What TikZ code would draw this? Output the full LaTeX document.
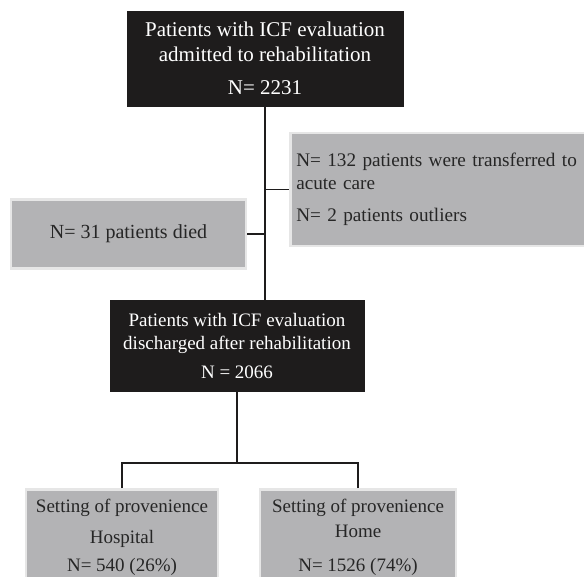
\documentclass[tikz,border=0pt]{standalone}
\usepackage{fontspec}
\setmainfont{Liberation Serif}
\definecolor{boxgrey}{HTML}{B3B3B5}
\definecolor{boxedge}{HTML}{E6E6E6}
\definecolor{inkgrey}{HTML}{262626}
\definecolor{inkblack}{HTML}{1E1C1C}
\tikzset{
  darkbox/.style={draw=inkblack, fill=inkblack, text=white, align=center, inner sep=0pt},
  greybox/.style={draw=boxedge, line width=2.5pt, fill=boxgrey, text=inkgrey, inner sep=0pt},
  thickline/.style={draw=inkblack, line width=2pt},
  thinline/.style={draw=inkblack, line width=1.2pt}
}

\begin{document}
\begin{tikzpicture}[x=1pt, y=-1pt]
      \useasboundingbox (0, 0) rectangle (584, 576);

      \node[darkbox, minimum width=276, minimum height=95,
        font=\fontsize{21}{25}\selectfont] (admitted) at (265, 58.5)
        {Patients with ICF evaluation\\admitted to rehabilitation\\[8pt]N= 2231};

      \node[greybox, anchor=west, align=left, text width=300, inner xsep=6,
        minimum height=113, font=\fontsize{19.2}{23}\selectfont] (transferred) at (289, 189.5)
        {N= 132 patients were transferred to\\acute care\\[9pt]N= 2 patients outliers};

      \node[greybox, align=center, minimum width=235, minimum height=69,
        font=\fontsize{20}{24}\selectfont] (died) at (128.5, 234) {N= 31 patients died};

      \node[darkbox, minimum width=254, minimum height=91,
        font=\fontsize{19}{23}\selectfont] (discharged) at (237, 345.5)
        {Patients with ICF evaluation\\discharged after rehabilitation\\[6pt]N = 2066};

      \node[greybox, anchor=north, align=center, minimum width=192, minimum height=96,
        font=\fontsize{19}{23}\selectfont] (hospital) at (122, 488)
        {Setting of provenience\\[8pt]Hospital\\[5pt]N= 540 (26\%)};

      \node[greybox, anchor=north, align=center, minimum width=196, minimum height=96,
        font=\fontsize{19}{23}\selectfont] (home) at (358, 488)
        {Setting of provenience\\[2pt]Home\\[11pt]N= 1526 (74\%)};

      \coordinate (fork) at (237, 463);

      \draw[thickline] (admitted.south) -- (admitted.south |- discharged.north);
      \draw[thinline] (transferred.west -| admitted.south) -- (transferred.west);
      \draw[thinline] (died.east) -- (died.east -| admitted.south);

      \draw[thickline] (discharged.south) -- (fork);
      \draw[thinline] (hospital.north) |- (fork);
      \draw[thickline] (home.north) |- (fork);
    \end{tikzpicture}
\end{document}
